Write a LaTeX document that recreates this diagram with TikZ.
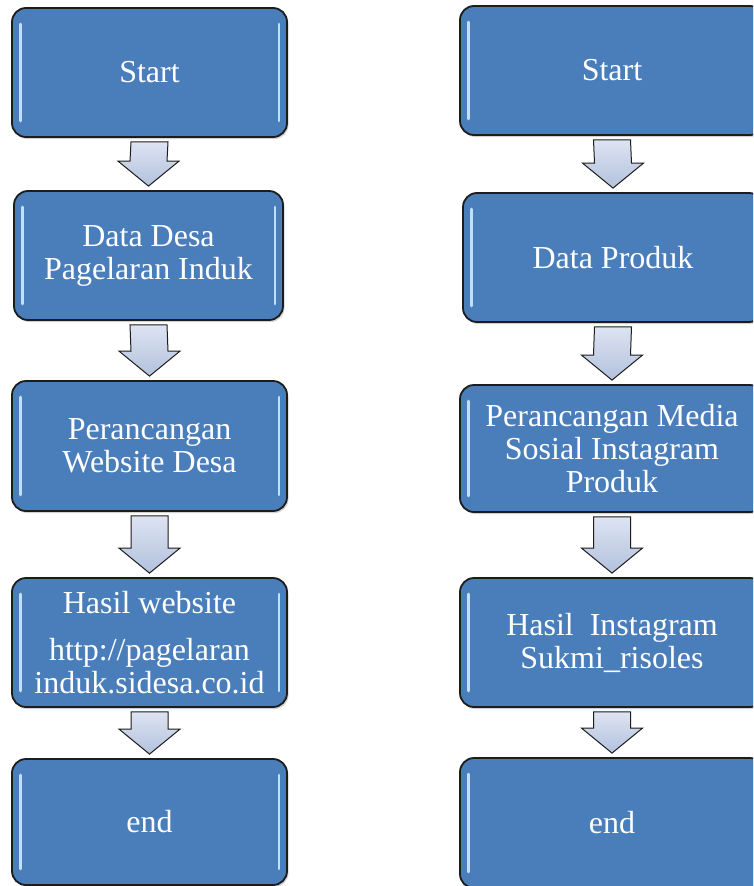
\documentclass[tikz,border=0pt]{standalone}
\usepackage{fontspec}
\setmainfont{Liberation Serif}
\usetikzlibrary{calc,shadows}

\definecolor{boxblue}{HTML}{4A7EBB}
\definecolor{boxedge}{HTML}{1C1C1C}
\definecolor{arrowtop}{HTML}{DDE4F2}
\definecolor{arrowbot}{HTML}{B3C1DD}
\definecolor{glintblue}{HTML}{BFE1FF}

\newcommand{\blockarrow}[2]{%
\draw[arrowbody] ($(#1.south)+(-18.5,4)$) -- ($(#1.south)+(18.5,4)$)
  -- ($(#2.north)+(18.5,-29)$) -- ($(#2.north)+(30.5,-29)$)
  -- ($(#2.north)+(0,-4)$)
  -- ($(#2.north)+(-30.5,-29)$) -- ($(#2.north)+(-18.5,-29)$) -- cycle;}

\begin{document}
\begin{tikzpicture}[x=1pt,y=-1pt,
  flowbox/.style={draw=boxedge, line width=1.8pt, rounded corners=14pt,
    fill=boxblue, text=white, align=center,
    font=\fontsize{32}{33}\selectfont,
    drop shadow={shadow xshift=1.5pt, shadow yshift=-2pt, opacity=.35}},
  arrowbody/.style={draw=boxedge, line width=1pt, line join=miter,
    top color=arrowtop, bottom color=arrowbot},
  glint/.style={draw=glintblue, line width=2.8pt, line cap=round}]

\clip (0,0) rectangle (753,886);
\fill[white] (0,0) rectangle (753,886);

% left column
\node[flowbox, minimum width=275, minimum height=129] (s1) at (149.5,72.5) {Start};
\node[flowbox, minimum width=269, minimum height=129] (d1) at (148.5,255.5) {Data Desa\\Pagelaran Induk};
\node[flowbox, minimum width=275, minimum height=130] (p1) at (149.5,446) {Perancangan\\Website Desa};
\node[flowbox, minimum width=275, minimum height=129] (h1) at (149.5,642.5) {Hasil website\\[14pt]http://pagelaran\\induk.sidesa.co.id};
\node[flowbox, minimum width=275, minimum height=126] (e1) at (149.5,822) {end};

% right column
\node[flowbox, minimum width=304, minimum height=129] (s2) at (612,70.5) {Start};
\node[flowbox, minimum width=300, minimum height=129] (d2) at (613,257.5) {Data Produk};
\node[flowbox, minimum width=304, minimum height=127] (p2) at (612,448.5) {Perancangan Media\\Sosial Instagram\\Produk};
\node[flowbox, minimum width=304, minimum height=129] (h2) at (612,642.5) {Hasil\ \ Instagram\\Sukmi\_risoles};
\node[flowbox, minimum width=304, minimum height=130] (e2) at (612,823) {end};

% highlights
\foreach \n in {s1,d1,p1,h1,e1,s2,d2,p2,h2,e2} {
  \draw[glint] ([xshift=9pt,yshift=-17pt]\n.north west) -- ([xshift=9pt,yshift=17pt]\n.south west);
  \draw[glint] ([xshift=-9pt,yshift=-17pt]\n.north east) -- ([xshift=-9pt,yshift=17pt]\n.south east);
}

% arrows
\blockarrow{s1}{d1}
\blockarrow{d1}{p1}
\blockarrow{p1}{h1}
\blockarrow{h1}{e1}
\blockarrow{s2}{d2}
\blockarrow{d2}{p2}
\blockarrow{p2}{h2}
\blockarrow{h2}{e2}

\end{tikzpicture}
\end{document}
